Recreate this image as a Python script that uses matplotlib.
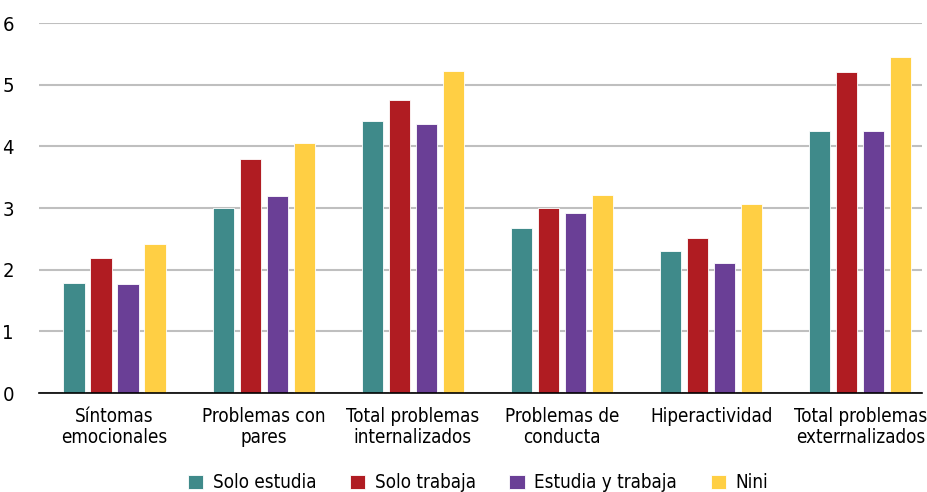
import matplotlib.pyplot as plt
import numpy as np

plt.rcParams['font.family'] = ['DejaVu Sans']
plt.rcParams['font.stretch'] = 'condensed'

categorias = ['Síntomas\nemocionales', 'Problemas con\npares', 'Total problemas\ninternalizados',
              'Problemas de\nconducta', 'Hiperactividad', 'Total problemas\nexterrnalizados']
series = ['Solo estudia', 'Solo trabaja', 'Estudia y trabaja', 'Nini']
solo_estudia = [1.79, 3.00, 4.41, 2.67, 2.30, 4.25]
solo_trabaja = [2.19, 3.79, 4.76, 3.00, 2.51, 5.20]
estudia_trabaja = [1.77, 3.19, 4.36, 2.92, 2.11, 4.25]
nini = [2.41, 4.05, 5.22, 3.22, 3.06, 5.45]
colores = ['#3F8A8A', '#B01C22', '#6A3F96', '#FFCF44']

fig = plt.figure(figsize=(9.28, 4.92), dpi=100)
ax = fig.add_axes([0.042, 0.201, 0.951, 0.752])

x = np.arange(len(categorias))
ancho = 0.142
paso = 0.181
for i, (nombre, vals) in enumerate(zip(series, [solo_estudia, solo_trabaja, estudia_trabaja, nini])):
    ax.bar(x + (i - 1.5) * paso, vals, ancho, color=colores[i], label=nombre,
           edgecolor='white', linewidth=0.6, zorder=3)

ax.set_xlim(-0.506, 5.41)
ax.set_ylim(0, 6)
ax.set_yticks(range(7))
ax.set_xticks(x)
ax.set_xticklabels(categorias, fontsize=13.5, linespacing=1.15)
ax.tick_params(axis='y', labelsize=14.5, length=0, pad=18)
ax.tick_params(axis='x', length=0, pad=10)
ax.grid(axis='y', color='#BFBFBF', linewidth=1.5, zorder=0)
for s in ['top', 'right', 'left']:
    ax.spines[s].set_visible(False)
ax.spines['bottom'].set_color('black')
ax.spines['bottom'].set_linewidth(1.2)
ax.spines['bottom'].set_zorder(4)

fig.legend(loc='lower center', ncol=4, bbox_to_anchor=(0.515, -0.035), frameon=False,
           fontsize=13.5, handlelength=0.82, handleheight=0.82, handletextpad=0.5, columnspacing=1.8)

plt.savefig('out.png', dpi=100)
